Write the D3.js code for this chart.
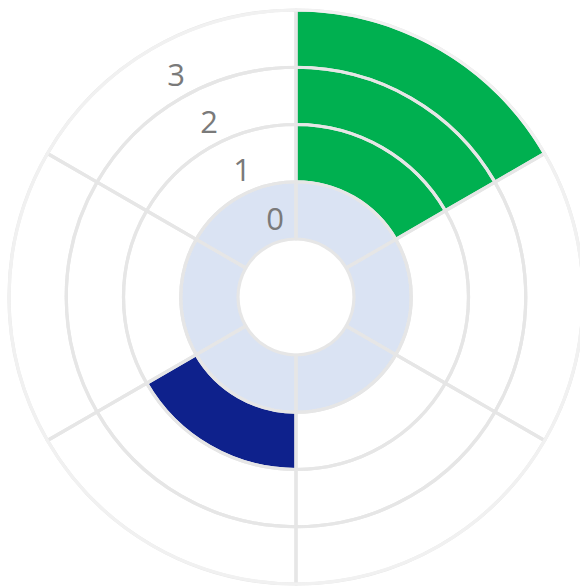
<!DOCTYPE html>
<html>
<head>
<meta charset="utf-8">
<script src="https://cdn.jsdelivr.net/npm/d3@7"></script>
<style>
  body { margin: 0; background: #fff; }
  svg { display: block; }
</style>
</head>
<body>
<svg id="chart" width="580" height="587"></svg>
<script>
// six sectors, four levels (0..3)
var sectors = ["S1", "S2", "S3", "S4", "S5", "S6"];
var levels = [0, 1, 2, 3];
var levelLabels = ["0", "1", "2", "3"];
// highest level reached by each sector (level 0 is the base ring)
var sectorLevels = [3, 0, 0, 1, 0, 0];
var sectorColors = ["#00b050", null, null, "#0e218c", null, null];
var baseColor = "#dae3f3";

var width = 580, height = 587;
var cx = 296, cy = 297;

var svg = d3.select("#chart");
var g = svg.append("g").attr("transform", "translate(" + cx + "," + cy + ")");

var r = d3.scaleLinear().domain([0, levels.length]).range([58, 287]);
var a = d3.scaleBand().domain(sectors).range([0, 2 * Math.PI]);

var cells = [];
sectors.forEach(function(s, i) {
  levels.forEach(function(l) {
    var fill = "#fff";
    if (l == 0) fill = baseColor;
    else if (l <= sectorLevels[i] && sectorColors[i]) fill = sectorColors[i];
    cells.push({ sector: s, level: l, fill: fill });
  });
});

var arc = d3.arc()
  .innerRadius(d => r(d.level))
  .outerRadius(d => r(d.level + 1))
  .startAngle(d => a(d.sector))
  .endAngle(d => a(d.sector) + a.bandwidth());

// fills first
g.append("g")
  .selectAll("path")
  .data(cells)
  .enter()
  .append("path")
  .attr("d", arc)
  .attr("fill", d => d.fill);

// borders on top
g.append("g")
  .selectAll("path")
  .data(cells)
  .enter()
  .append("path")
  .attr("d", arc)
  .attr("fill", "none")
  .attr("stroke", "#e6e6e6")
  .attr("stroke-width", 3.2)
  .attr("stroke-linejoin", "round");

// outer edge is lighter
g.append("circle")
  .attr("r", r(levels.length))
  .attr("fill", "none")
  .attr("stroke", "#f1f1f1")
  .attr("stroke-width", 3.2);

// level labels, placed on each ring's middle circle
var lx = d3.scaleLinear().domain([0, 3]).range([-21, -120]);
g.append("g")
  .selectAll("text")
  .data(levels)
  .enter()
  .append("text")
  .attr("x", d => lx(d))
  .attr("y", d => {
    let rm = (r(d) + r(d + 1)) / 2 - 5;
    return -Math.sqrt(rm * rm - lx(d) * lx(d));
  })
  .attr("text-anchor", "middle")
  .attr("dominant-baseline", "central")
  .attr("font-family", "'Open Sans', sans-serif")
  .attr("font-size", 31)
  .attr("fill", "#7a7a7a")
  .text(d => levelLabels[d]);
</script>
</body>
</html>
